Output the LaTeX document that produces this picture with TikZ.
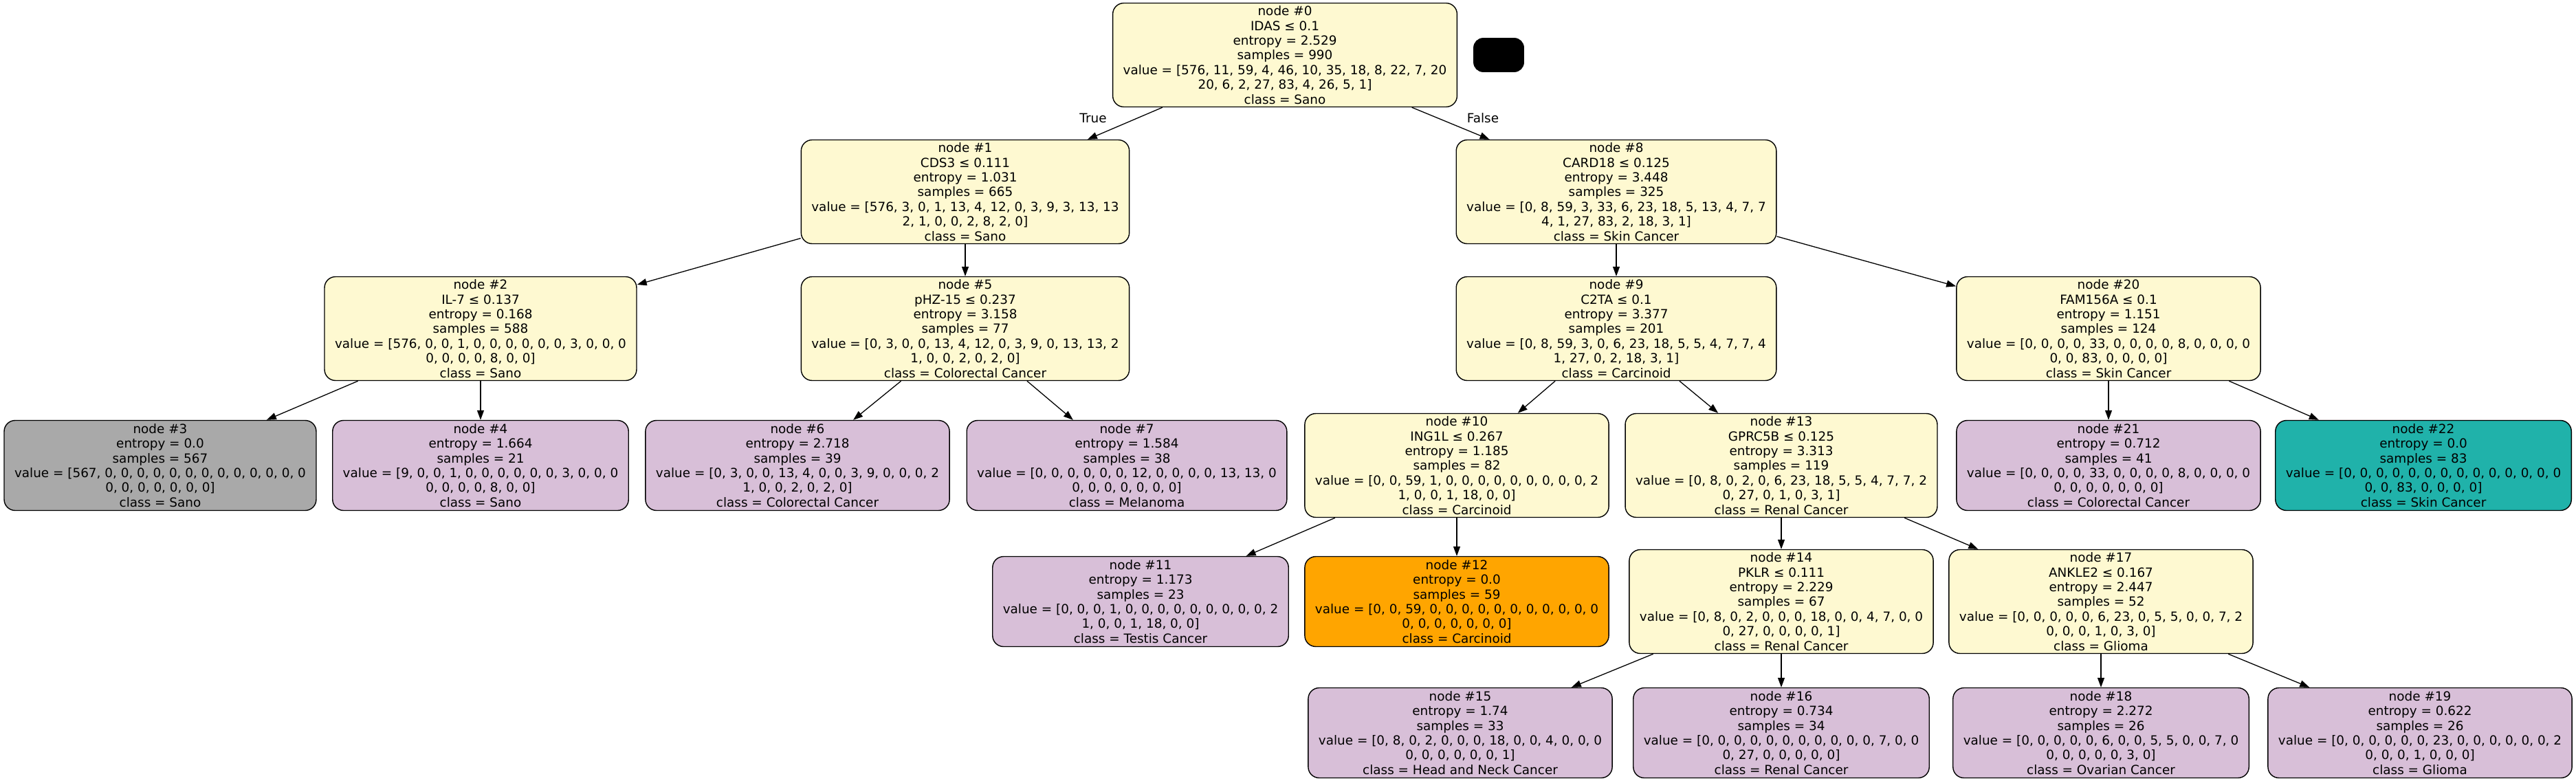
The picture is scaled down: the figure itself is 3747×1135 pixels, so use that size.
\documentclass[tikz,border=0pt]{standalone}
\usepackage{fontspec}
\setmainfont{DejaVu Sans}
\usetikzlibrary{arrows.meta}
\definecolor{ycol}{HTML}{FEF9D1}
\definecolor{pcol}{HTML}{D8BFD8}
\definecolor{gcol}{HTML}{A9A9A9}
\definecolor{tcol}{HTML}{20B2AA}
\definecolor{ocol}{HTML}{FFA500}
\begin{document}
\begin{tikzpicture}[x=0.5pt,y=-0.5pt,
  box/.style={draw=black, line width=0.7pt, rounded corners=8pt, align=center,
    font=\fontsize{9.2}{10.7}\selectfont, inner xsep=7.5pt, inner ysep=0pt},
  split/.style={box, fill=ycol, minimum height=75.5pt},
  leaf/.style={box, fill=pcol, minimum height=65.5pt},
  leafgrey/.style={leaf, fill=gcol},
  leafteal/.style={leaf, fill=tcol},
  leaforange/.style={leaf, fill=ocol},
  conn/.style={-{Triangle[length=7pt,width=5pt]}, line width=0.65pt},
  elabel/.style={font=\fontsize{9.2}{10.7}\selectfont, inner sep=0pt}
]
\useasboundingbox (0,0) rectangle (3747,1135);

\node[split] (n0) at (1869,80) {node \#0\\IDAS ≤ 0.1\\entropy = 2.529\\samples = 990\\value = [576, 11, 59, 4, 46, 10, 35, 18, 8, 22, 7, 20\\20, 6, 2, 27, 83, 4, 26, 5, 1]\\class = Sano};
\node[fill=black, draw=black, rounded corners=7pt, minimum width=36.5pt, minimum height=24.5pt, inner sep=0pt] (legend) at (2180,80) {};

\node[split] (n1) at (1404,279) {node \#1\\CDS3 ≤ 0.111\\entropy = 1.031\\samples = 665\\value = [576, 3, 0, 1, 13, 4, 12, 0, 3, 9, 3, 13, 13\\2, 1, 0, 0, 2, 8, 2, 0]\\class = Sano};
\node[split] (n8) at (2351,279) {node \#8\\CARD18 ≤ 0.125\\entropy = 3.448\\samples = 325\\value = [0, 8, 59, 3, 33, 6, 23, 18, 5, 13, 4, 7, 7\\4, 1, 27, 83, 2, 18, 3, 1]\\class = Skin Cancer};

\node[split] (n2) at (699,478) {node \#2\\IL-7 ≤ 0.137\\entropy = 0.168\\samples = 588\\value = [576, 0, 0, 1, 0, 0, 0, 0, 0, 0, 3, 0, 0, 0\\0, 0, 0, 0, 8, 0, 0]\\class = Sano};
\node[split] (n5) at (1404,478) {node \#5\\pHZ-15 ≤ 0.237\\entropy = 3.158\\samples = 77\\value = [0, 3, 0, 0, 13, 4, 12, 0, 3, 9, 0, 13, 13, 2\\1, 0, 0, 2, 0, 2, 0]\\class = Colorectal Cancer};
\node[split] (n9) at (2351,478) {node \#9\\C2TA ≤ 0.1\\entropy = 3.377\\samples = 201\\value = [0, 8, 59, 3, 0, 6, 23, 18, 5, 5, 4, 7, 7, 4\\1, 27, 0, 2, 18, 3, 1]\\class = Carcinoid};
\node[split] (n20) at (3067,478) {node \#20\\FAM156A ≤ 0.1\\entropy = 1.151\\samples = 124\\value = [0, 0, 0, 0, 33, 0, 0, 0, 0, 8, 0, 0, 0, 0\\0, 0, 83, 0, 0, 0, 0]\\class = Skin Cancer};

\node[leafgrey] (n3) at (233,677) {node \#3\\entropy = 0.0\\samples = 567\\value = [567, 0, 0, 0, 0, 0, 0, 0, 0, 0, 0, 0, 0, 0\\0, 0, 0, 0, 0, 0, 0]\\class = Sano};
\node[leaf] (n4) at (699,677) {node \#4\\entropy = 1.664\\samples = 21\\value = [9, 0, 0, 1, 0, 0, 0, 0, 0, 0, 3, 0, 0, 0\\0, 0, 0, 0, 8, 0, 0]\\class = Sano};
\node[leaf] (n6) at (1160,677) {node \#6\\entropy = 2.718\\samples = 39\\value = [0, 3, 0, 0, 13, 4, 0, 0, 3, 9, 0, 0, 0, 2\\1, 0, 0, 2, 0, 2, 0]\\class = Colorectal Cancer};
\node[leaf] (n7) at (1639,677) {node \#7\\entropy = 1.584\\samples = 38\\value = [0, 0, 0, 0, 0, 0, 12, 0, 0, 0, 0, 13, 13, 0\\0, 0, 0, 0, 0, 0, 0]\\class = Melanoma};
\node[split] (n10) at (2119,677) {node \#10\\ING1L ≤ 0.267\\entropy = 1.185\\samples = 82\\value = [0, 0, 59, 1, 0, 0, 0, 0, 0, 0, 0, 0, 0, 2\\1, 0, 0, 1, 18, 0, 0]\\class = Carcinoid};
\node[split] (n13) at (2591,677) {node \#13\\GPRC5B ≤ 0.125\\entropy = 3.313\\samples = 119\\value = [0, 8, 0, 2, 0, 6, 23, 18, 5, 5, 4, 7, 7, 2\\0, 27, 0, 1, 0, 3, 1]\\class = Renal Cancer};
\node[leaf] (n21) at (3067,677) {node \#21\\entropy = 0.712\\samples = 41\\value = [0, 0, 0, 0, 33, 0, 0, 0, 0, 8, 0, 0, 0, 0\\0, 0, 0, 0, 0, 0, 0]\\class = Colorectal Cancer};
\node[leafteal] (n22) at (3525,677) {node \#22\\entropy = 0.0\\samples = 83\\value = [0, 0, 0, 0, 0, 0, 0, 0, 0, 0, 0, 0, 0, 0\\0, 0, 83, 0, 0, 0, 0]\\class = Skin Cancer};

\node[leaf] (n11) at (1659,875) {node \#11\\entropy = 1.173\\samples = 23\\value = [0, 0, 0, 1, 0, 0, 0, 0, 0, 0, 0, 0, 0, 2\\1, 0, 0, 1, 18, 0, 0]\\class = Testis Cancer};
\node[leaforange] (n12) at (2119,875) {node \#12\\entropy = 0.0\\samples = 59\\value = [0, 0, 59, 0, 0, 0, 0, 0, 0, 0, 0, 0, 0, 0\\0, 0, 0, 0, 0, 0, 0]\\class = Carcinoid};
\node[split] (n14) at (2591,875) {node \#14\\PKLR ≤ 0.111\\entropy = 2.229\\samples = 67\\value = [0, 8, 0, 2, 0, 0, 0, 18, 0, 0, 4, 7, 0, 0\\0, 27, 0, 0, 0, 0, 1]\\class = Renal Cancer};
\node[split] (n17) at (3056,875) {node \#17\\ANKLE2 ≤ 0.167\\entropy = 2.447\\samples = 52\\value = [0, 0, 0, 0, 0, 6, 23, 0, 5, 5, 0, 0, 7, 2\\0, 0, 0, 1, 0, 3, 0]\\class = Glioma};

\node[leaf] (n15) at (2124,1066) {node \#15\\entropy = 1.74\\samples = 33\\value = [0, 8, 0, 2, 0, 0, 0, 18, 0, 0, 4, 0, 0, 0\\0, 0, 0, 0, 0, 0, 1]\\class = Head and Neck Cancer};
\node[leaf] (n16) at (2591,1066) {node \#16\\entropy = 0.734\\samples = 34\\value = [0, 0, 0, 0, 0, 0, 0, 0, 0, 0, 0, 7, 0, 0\\0, 27, 0, 0, 0, 0, 0]\\class = Renal Cancer};
\node[leaf] (n18) at (3056,1066) {node \#18\\entropy = 2.272\\samples = 26\\value = [0, 0, 0, 0, 0, 6, 0, 0, 5, 5, 0, 0, 7, 0\\0, 0, 0, 0, 0, 3, 0]\\class = Ovarian Cancer};
\node[leaf] (n19) at (3520,1066) {node \#19\\entropy = 0.622\\samples = 26\\value = [0, 0, 0, 0, 0, 0, 23, 0, 0, 0, 0, 0, 0, 2\\0, 0, 0, 1, 0, 0, 0]\\class = Glioma};

\draw[conn] (n0) -- (n1);
\draw[conn] (n0) -- (n8);
\draw[conn] (n1) -- (n2);
\draw[conn] (n1) -- (n5);
\draw[conn] (n2) -- (n3);
\draw[conn] (n2) -- (n4);
\draw[conn] (n5) -- (n6);
\draw[conn] (n5) -- (n7);
\draw[conn] (n8) -- (n9);
\draw[conn] (n8) -- (n20);
\draw[conn] (n9) -- (n10);
\draw[conn] (n9) -- (n13);
\draw[conn] (n10) -- (n11);
\draw[conn] (n10) -- (n12);
\draw[conn] (n13) -- (n14);
\draw[conn] (n13) -- (n17);
\draw[conn] (n14) -- (n15);
\draw[conn] (n14) -- (n16);
\draw[conn] (n17) -- (n18);
\draw[conn] (n17) -- (n19);
\draw[conn] (n20) -- (n21);
\draw[conn] (n20) -- (n22);

\node[elabel] (ltrue) at (1590,172) {True};
\node[elabel] (lfalse) at (2157,172) {False};
\end{tikzpicture}
\end{document}
